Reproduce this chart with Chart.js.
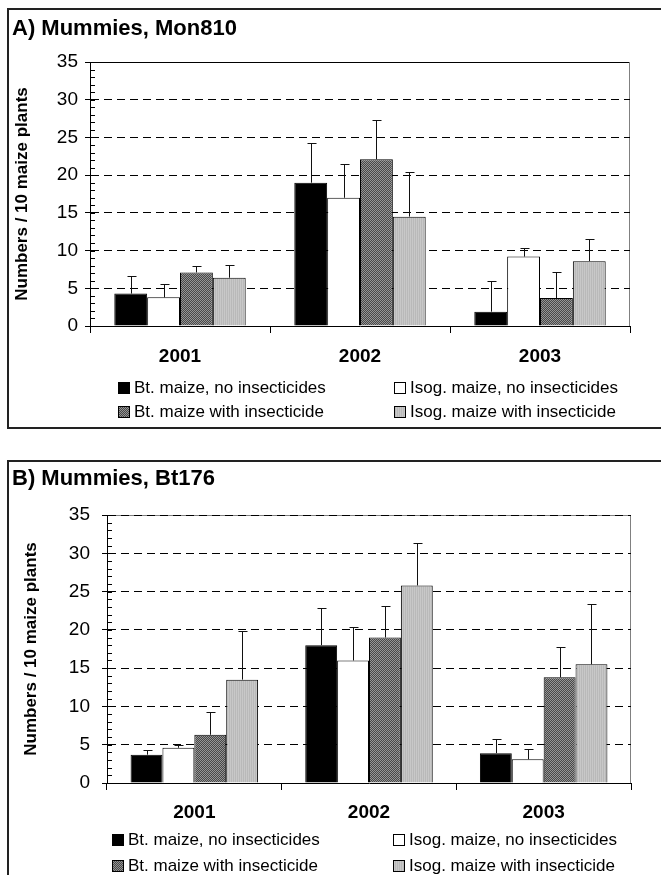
<!DOCTYPE html>
<html lang="en">
<head>
<meta charset="UTF-8">
<title>Mummies, Mon810 / Bt176</title>
<script src="https://cdn.jsdelivr.net/npm/chart.js"></script>
<style>
  body {
    margin: 0;
    background: #fff;
    width: 661px;
    height: 875px;
    overflow: hidden;
    position: relative;
  }
  /* each panel has a frame that runs off the right edge */
  .panel {
    position: absolute;
    left: 7px;
    border: 2px solid #222;
    width: 700px;
  }
  #panelA { top: 8px; height: 417px; }
  #panelB { top: 460px; height: 430px; }
  .panel canvas { position: absolute; left: 0; top: 0; }
</style>
</head>
<body>
<div class="panel" id="panelA"><canvas id="chartA" width="652" height="417"></canvas></div>
<div class="panel" id="panelB"><canvas id="chartB" width="652" height="413"></canvas></div>

<script>
  const years = ['2001', '2002', '2003'];
  const seriesLabels = [
    'Bt. maize, no insecticides',
    'Isog. maize, no insecticides',
    'Bt. maize with insecticide',
    'Isog. maize with insecticide'
  ];
  const yMax = 35;

  // A) Mon810 - means and (upper) error bars
  const monBtNo = [4.3, 19.0, 1.9];
  const monBtNoErr = [2.3, 5.2, 4.1];
  const monIsoNo = [3.8, 17.0, 9.2];
  const monIsoNoErr = [1.8, 4.5, 1.1];
  const monBtIns = [7.1, 22.1, 3.7];
  const monBtInsErr = [0.8, 5.2, 3.4];
  const monIsoIns = [6.4, 14.5, 8.6];
  const monIsoInsErr = [1.7, 5.9, 3.0];

  // B) Bt176
  const btBtNo = [3.7, 18.0, 3.9];
  const btBtNoErr = [0.6, 4.8, 1.9];
  const btIsoNo = [4.6, 16.0, 3.1];
  const btIsoNoErr = [0.3, 4.4, 1.3];
  const btBtIns = [6.3, 19.0, 13.8];
  const btBtInsErr = [3.0, 4.1, 3.9];
  const btIsoIns = [13.5, 25.8, 15.5];
  const btIsoInsErr = [6.3, 5.6, 7.9];

  Chart.defaults.font.family = '"Liberation Sans", Arial, sans-serif';
  Chart.defaults.color = '#000';

  // small fill textures like the old spreadsheet patterns
  function makePattern(size, draw) {
    const c = document.createElement('canvas');
    c.width = c.height = size;
    const g = c.getContext('2d');
    draw(g);
    return g.createPattern(c, 'repeat');
  }
  const darkFill = makePattern(2, g => {
    g.fillStyle = '#959595'; g.fillRect(0, 0, 2, 2);
    g.fillStyle = '#484848'; g.fillRect(0, 0, 1, 1); g.fillRect(1, 1, 1, 1);
  });
  const grayFill = makePattern(2, g => {
    g.fillStyle = '#c8c8c8'; g.fillRect(0, 0, 2, 2);
    g.fillStyle = '#b9b9b9'; g.fillRect(0, 0, 1, 2);
  });
  const fills = ['#000', '#fff', darkFill, grayFill];

  // frame, inner ticks, error bars and the 2x2 legend
  const panelPlugin = {
    id: 'panel',
    beforeDraw(chart, args, o) {
      const { ctx, chartArea: a } = chart;
      ctx.save();
      ctx.lineWidth = 1;
      ctx.strokeStyle = o.topColor;
      ctx.beginPath();
      ctx.moveTo(a.left, a.top + 0.5);
      ctx.lineTo(a.right, a.top + 0.5);
      ctx.stroke();
      ctx.strokeStyle = '#808080';
      ctx.beginPath();
      ctx.moveTo(a.right - 0.5, a.top);
      ctx.lineTo(a.right - 0.5, a.bottom);
      ctx.stroke();
      ctx.restore();
    },
    beforeDatasetsDraw(chart) {
      const { ctx, chartArea: a, scales: { y } } = chart;
      ctx.save();
      ctx.strokeStyle = '#000';
      ctx.lineWidth = 1;
      ctx.beginPath();
      for (let v = 0; v <= yMax; v++) {
        const py = Math.round(y.getPixelForValue(v)) + 0.5;
        ctx.moveTo(a.left, py);
        ctx.lineTo(a.left + 5, py);
      }
      ctx.stroke();
      ctx.restore();
    },
    afterDatasetsDraw(chart) {
      const { ctx, scales: { y } } = chart;
      ctx.save();
      ctx.strokeStyle = '#111';
      ctx.lineWidth = 1;
      ctx.beginPath();
      chart.data.datasets.forEach((ds, i) => {
        chart.getDatasetMeta(i).data.forEach((bar, j) => {
          const top = Math.round(y.getPixelForValue(ds.data[j] + ds.errors[j])) + 0.5;
          const x = Math.round(bar.x) + 0.5;
          ctx.moveTo(x, bar.y);
          ctx.lineTo(x, top);
          ctx.moveTo(x - 4, top);
          ctx.lineTo(x + 5, top);
        });
      });
      ctx.stroke();
      ctx.restore();
    },
    afterDraw(chart, args, o) {
      const { ctx } = chart;
      ctx.save();
      ctx.font = '17px "Liberation Sans", Arial, sans-serif';
      ctx.textBaseline = 'middle';
      chart.data.datasets.forEach((ds, i) => {
        const bx = o.cols[i % 2];
        const cy = o.rows[Math.floor(i / 2)];
        ctx.fillStyle = ds.backgroundColor;
        ctx.fillRect(bx, cy - 6, 12, 12);
        ctx.strokeStyle = '#000';
        ctx.lineWidth = 1;
        ctx.strokeRect(bx + 0.5, cy - 5.5, 11, 11);
        ctx.fillStyle = '#000';
        ctx.fillText(ds.label, bx + 16, cy);
      });
      ctx.restore();
    }
  };

  function buildPanel(canvasId, p) {
    const cv = document.getElementById(canvasId);
    const W = cv.width, H = cv.height;
    const datasets = p.values.map((v, i) => ({
      label: seriesLabels[i],
      data: v,
      errors: p.errors[i],
      backgroundColor: fills[i],
      borderColor: '#000',
      borderWidth: 1,
      categoryPercentage: 0.73,
      barPercentage: 1
    }));

    return new Chart(cv, {
      type: 'bar',
      data: { labels: years, datasets },
      options: {
        responsive: false,
        animation: false,
        layout: { padding: { left: 3, right: W - p.right, top: 0, bottom: 0 } },
        plugins: {
          legend: { display: false },
          tooltip: { enabled: false },
          title: {
            display: true,
            text: p.title,
            align: 'start',
            color: '#000',
            font: { size: 22, weight: 'bold' },
            padding: { top: p.titleTop, bottom: p.top - p.titleTop - 26.4 }
          },
          panel: { topColor: p.topColor, cols: p.legendCols, rows: p.legendRows }
        },
        scales: {
          x: {
            grid: { offset: true, drawOnChartArea: false, tickLength: 7, color: '#000' },
            border: { color: '#000' },
            ticks: { color: '#000', font: { size: 19, weight: 'bold' }, padding: p.xPad },
            afterFit: s => { s.height = H - p.bottom; }
          },
          y: {
            min: 0,
            max: yMax,
            ticks: {
              stepSize: 1,
              maxTicksLimit: 100,
              autoSkip: false,
              color: '#000',
              font: { size: 19 },
              padding: p.yPad,
              callback: v => (v % 5 === 0 ? v : '')
            },
            grid: {
              color: c => {
                const v = c.tick.value;
                if (v % 5 !== 0 || v === 0) return 'rgba(0,0,0,0)';
                if (v === yMax && p.topColor === '#000') return 'rgba(0,0,0,0)';
                return '#000';
              },
              tickColor: c => (c.tick.value % 5 === 0 ? '#000' : 'rgba(0,0,0,0)'),
              tickLength: 5,
              lineWidth: 1
            },
            border: { color: '#000', dash: [8, 5] },
            title: {
              display: true,
              text: 'Numbers / 10 maize plants',
              color: '#000',
              font: { size: 17, weight: 'bold' },
              padding: { top: p.yTitlePad, bottom: 0 }
            },
            afterFit: s => { s.width = p.left - 3; }
          }
        }
      },
      plugins: [panelPlugin]
    });
  }

  buildPanel('chartA', {
    title: 'A) Mummies, Mon810',
    values: [monBtNo, monIsoNo, monBtIns, monIsoIns],
    errors: [monBtNoErr, monIsoNoErr, monBtInsErr, monIsoInsErr],
    left: 81, right: 621, top: 52, bottom: 316,
    titleTop: 6, xPad: 12, yPad: 7, yTitlePad: 0,
    topColor: '#000',
    legendCols: [109, 385],
    legendRows: [378, 402]
  });

  buildPanel('chartB', {
    title: 'B) Mummies, Bt176',
    values: [btBtNo, btIsoNo, btBtIns, btIsoIns],
    errors: [btBtNoErr, btIsoNoErr, btBtInsErr, btIsoInsErr],
    left: 98, right: 622, top: 53, bottom: 321,
    titleTop: 4, xPad: 11, yPad: 12, yTitlePad: 9,
    topColor: '#808080',
    legendCols: [103, 384],
    legendRows: [378, 404]
  });
</script>
</body>
</html>
